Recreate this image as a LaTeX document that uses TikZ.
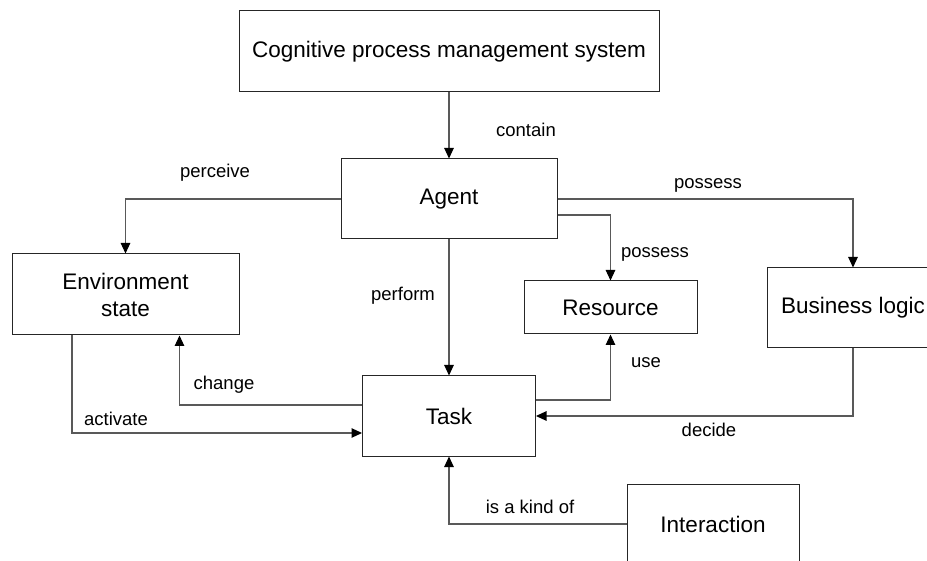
\documentclass[tikz,border=0pt]{standalone}
\usepackage{fontspec}
\setmainfont{Liberation Sans}
\usetikzlibrary{arrows.meta}
\begin{document}
\begin{tikzpicture}[x=1pt,y=-1pt,
  box/.style={draw=black!85,line width=1pt,fill=white,inner sep=0pt,font=\fontsize{22.5}{27}\selectfont,align=center},
  lbl/.style={inner sep=0pt,font=\fontsize{18.5}{22}\selectfont},
  conn/.style={draw=black!65,line width=1.1pt,-{Triangle[length=10.5pt,width=9.5pt,color=black]}}]
\clip (0,0) rectangle (927,561);
\fill[white] (0,0) rectangle (927,561);
\node[box,minimum width=420pt,minimum height=81pt] (top) at (449,51.5) {Cognitive process management system};
\node[box,minimum width=216pt,minimum height=80pt] (agent) at (449,199) {Agent};
\node[box,minimum width=227pt,minimum height=81pt] (env) at (125.5,294.5) {Environment\\state};
\node[box,minimum width=173pt,minimum height=53pt] (resource) at (610.5,307.5) {Resource};
\node[box,minimum width=172pt,minimum height=80pt] (business) at (853,308) {Business logic};
\node[box,minimum width=173pt,minimum height=80pt] (task) at (449,416) {Task};
\node[box,minimum width=172pt,minimum height=80pt] (interaction) at (713,524) {Interaction};

\draw[conn] (top.south) -- (agent.north);
\draw[conn] (agent.west) -| (env.north);
\draw[conn] (agent.east) -| (business.north);
\draw[conn] ([yshift=-16pt]agent.east) -| (resource.north);
\draw[conn] (agent.south) -- (task.north);
\draw[conn] ([xshift=-53.5pt]env.south) |- ([yshift=-17pt]task.west);
\draw[conn] ([yshift=11pt]task.west) -| ([xshift=54pt]env.south);
\draw[conn] ([yshift=16pt]task.east) -| (resource.south);
\draw[conn] (business.south) |- (task.east);
\draw[conn] (interaction.west) -| (task.south);

\node[lbl] (lcontain) at (526,130) {contain};
\node[lbl] (lperceive) at (215,173) {perceive};
\node[lbl] (lpossess1) at (708,185) {possess};
\node[lbl] (lpossess2) at (655,254) {possess};
\node[lbl] (lperform) at (403,296) {perform};
\node[lbl] (luse) at (646,363) {use};
\node[lbl] (lchange) at (224,385) {change};
\node[lbl] (lactivate) at (116,419) {activate};
\node[lbl] (ldecide) at (709,430) {decide};
\node[lbl] (lkind) at (530,507) {is a kind of};
\end{tikzpicture}
\end{document}
